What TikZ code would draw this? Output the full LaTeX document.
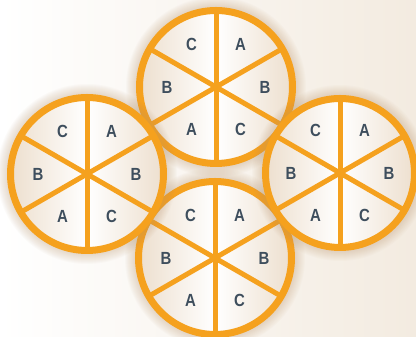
\documentclass[tikz,border=0pt]{standalone}
\usepackage{fontspec}
\newfontfamily\lblfont[FakeStretch=0.85]{Liberation Sans}
\usetikzlibrary{calc}
\definecolor{ringorange}{RGB}{245,161,30}
\definecolor{lbltext}{RGB}{62,78,93}
\definecolor{sectorside}{RGB}{237,223,206}
\definecolor{bgright}{RGB}{243,235,224}
\definecolor{glowbrown}{RGB}{190,155,115}
\tikzset{
	ring/.style={draw=ringorange, line width=1.75mm},
	spoke/.style={draw=ringorange, line width=1.25mm},
	sector/.style={text=lbltext, font=\lblfont\bfseries\fontsize{12.5}{14}\selectfont, inner sep=0pt}
}
\begin{document}
\begin{tikzpicture}[x=0.25mm, y=0.25mm, line cap=butt]
	\useasboundingbox (0,0) rectangle (416,337);
	\shade[left color=white, right color=bgright] (0,0) rectangle (416,337);
	\path (216,250) coordinate (W_top)
	(215,79) coordinate (W_bottom)
	(87,163) coordinate (W_left)
	(340,164) coordinate (W_right);
	\foreach \w/\r in {top/80, bottom/80, left/80, right/78}{
		\foreach \g in {1,...,10}
			\fill[glowbrown, opacity=0.035] (W_\w) circle (\r+\g);
		\shade[left color=sectorside, right color=sectorside, middle color=white] (W_\w) circle (\r-3.5);
		\foreach \a in {90,30,-30}
			\draw[spoke] ($(W_\w)+(\a:\r-5)$) -- ($(W_\w)+(\a+180:\r-5)$);
		\draw[ring] (W_\w) circle (\r-3.5);
		\foreach \a/\t in {60/A, 0/B, -60/C, -120/A, 180/B, 120/C}
			\node[sector] (\w\t\a) at ($(W_\w)+(\a:49)$) {\t};
	}
\end{tikzpicture}
\end{document}
